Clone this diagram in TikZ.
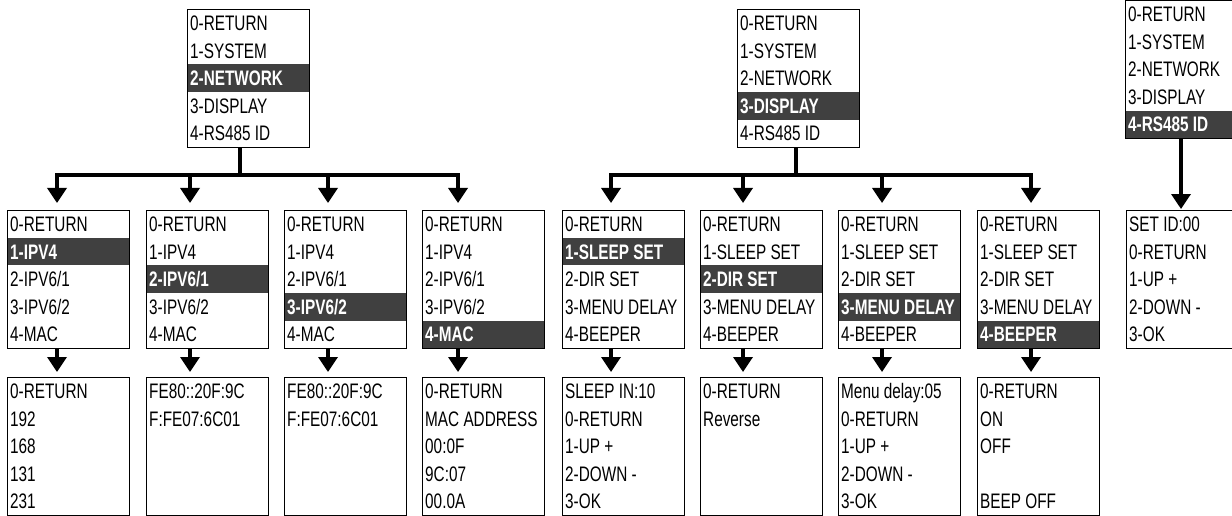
\documentclass[tikz,border=0pt]{standalone}
\usepackage{fontspec}
\setmainfont[FakeStretch=0.73]{Liberation Sans}
\usetikzlibrary{arrows.meta}
\definecolor{hlgray}{RGB}{64,64,64}
\tikzset{
 menubox/.style={draw=black, line width=1.4pt, minimum width=122pt, minimum height=138pt, inner sep=0pt, anchor=north west},
 plainrow/.style={anchor=north west, minimum width=122pt, minimum height=27.6pt, inner xsep=3pt, inner ysep=0pt, text height=15pt, text depth=0pt, font=\fontsize{21}{22}\selectfont},
 hlrow/.style={plainrow, fill=hlgray, text=white, font=\fontsize{21}{22}\selectfont\bfseries},
 conn/.style={line width=3.5pt, -{Triangle[length=15pt,width=19pt]}},
}
\newcommand{\mrow}[6]{%
 \ifnum#4=#5\relax
  \node[hlrow] (#1-#4) at (#2,{#3+#4*27.6}) {\makebox[116pt][l]{#6}};%
 \else
  \node[plainrow] (#1-#4) at (#2,{#3+#4*27.6}) {\makebox[116pt][l]{#6}};%
 \fi}
\newcommand{\menu}[9]{%
 \mrow{#1}{#2}{#3}{0}{#4}{#5}%
 \mrow{#1}{#2}{#3}{1}{#4}{#6}%
 \mrow{#1}{#2}{#3}{2}{#4}{#7}%
 \mrow{#1}{#2}{#3}{3}{#4}{#8}%
 \mrow{#1}{#2}{#3}{4}{#4}{#9}%
 \node[menubox] (#1) at (#2,#3) {};}
\begin{document}
\begin{tikzpicture}[x=1pt,y=-1pt]
\useasboundingbox (0,0) rectangle (1232,516);
\clip (0,0) rectangle (1232,516);
% top level
\menu{N}{187}{9}{2}{0-RETURN}{1-SYSTEM}{2-NETWORK}{3-DISPLAY}{4-RS485 ID}
\menu{D}{737}{9}{3}{0-RETURN}{1-SYSTEM}{2-NETWORK}{3-DISPLAY}{4-RS485 ID}
\menu{R}{1125}{0}{4}{0-RETURN}{1-SYSTEM}{2-NETWORK}{3-DISPLAY}{4-RS485 ID}
% second level
\menu{A1}{7}{210}{1}{0-RETURN}{1-IPV4}{2-IPV6/1}{3-IPV6/2}{4-MAC}
\menu{A2}{146}{210}{2}{0-RETURN}{1-IPV4}{2-IPV6/1}{3-IPV6/2}{4-MAC}
\menu{A3}{284}{210}{3}{0-RETURN}{1-IPV4}{2-IPV6/1}{3-IPV6/2}{4-MAC}
\menu{A4}{422}{210}{4}{0-RETURN}{1-IPV4}{2-IPV6/1}{3-IPV6/2}{4-MAC}
\menu{A5}{562}{210}{1}{0-RETURN}{1-SLEEP SET}{2-DIR SET}{3-MENU DELAY}{4-BEEPER}
\menu{A6}{700}{210}{2}{0-RETURN}{1-SLEEP SET}{2-DIR SET}{3-MENU DELAY}{4-BEEPER}
\menu{A7}{838}{210}{3}{0-RETURN}{1-SLEEP SET}{2-DIR SET}{3-MENU DELAY}{4-BEEPER}
\menu{A8}{977}{210}{4}{0-RETURN}{1-SLEEP SET}{2-DIR SET}{3-MENU DELAY}{4-BEEPER}
\menu{S}{1126}{210}{-1}{SET ID:00}{0-RETURN}{1-UP +}{2-DOWN -}{3-OK}
% third level
\menu{B1}{7}{377}{-1}{0-RETURN}{192}{168}{131}{231}
\menu{B2}{146}{377}{-1}{FE80::20F:9C}{F:FE07:6C01}{}{}{}
\menu{B3}{284}{377}{-1}{FE80::20F:9C}{F:FE07:6C01}{}{}{}
\menu{B4}{422}{377}{-1}{0-RETURN}{MAC ADDRESS}{00:0F}{9C:07}{00.0A}
\menu{B5}{562}{377}{-1}{SLEEP IN:10}{0-RETURN}{1-UP +}{2-DOWN -}{3-OK}
\menu{B6}{700}{377}{-1}{0-RETURN}{Reverse}{}{}{}
\menu{B7}{838}{377}{-1}{Menu delay:05}{0-RETURN}{1-UP +}{2-DOWN -}{3-OK}
\menu{B8}{977}{377}{-1}{0-RETURN}{ON}{OFF}{}{BEEP OFF}
% junctions and arrow columns
\coordinate (Nj) at (240,175);
\coordinate (Dj) at (796,175);
\coordinate (c1) at (57,175);
\coordinate (c2) at (190,175);
\coordinate (c3) at (328,175);
\coordinate (c4) at (458,175);
\coordinate (c5) at (611,175);
\coordinate (c6) at (743,175);
\coordinate (c7) at (882,175);
\coordinate (c8) at (1031,175);
\coordinate (cR) at (1181,175);
% level 1 -> 2
\foreach \i in {1,2,3,4}{
 \draw[conn, shorten >=7pt] (N.south -| Nj) -- (Nj) -- (c\i) -- (c\i |- A\i.north);
}
\foreach \i in {5,6,7,8}{
 \draw[conn, shorten >=7pt] (D.south -| Dj) -- (Dj) -- (c\i) -- (c\i |- A\i.north);
}
\draw[conn, shorten >=1pt] (R.south -| cR) -- (S.north -| cR);
% level 2 -> 3
\foreach \i in {1,...,8}{
 \draw[conn, shorten >=5pt] (A\i.south -| c\i) -- (B\i.north -| c\i);
}
\end{tikzpicture}
\end{document}
